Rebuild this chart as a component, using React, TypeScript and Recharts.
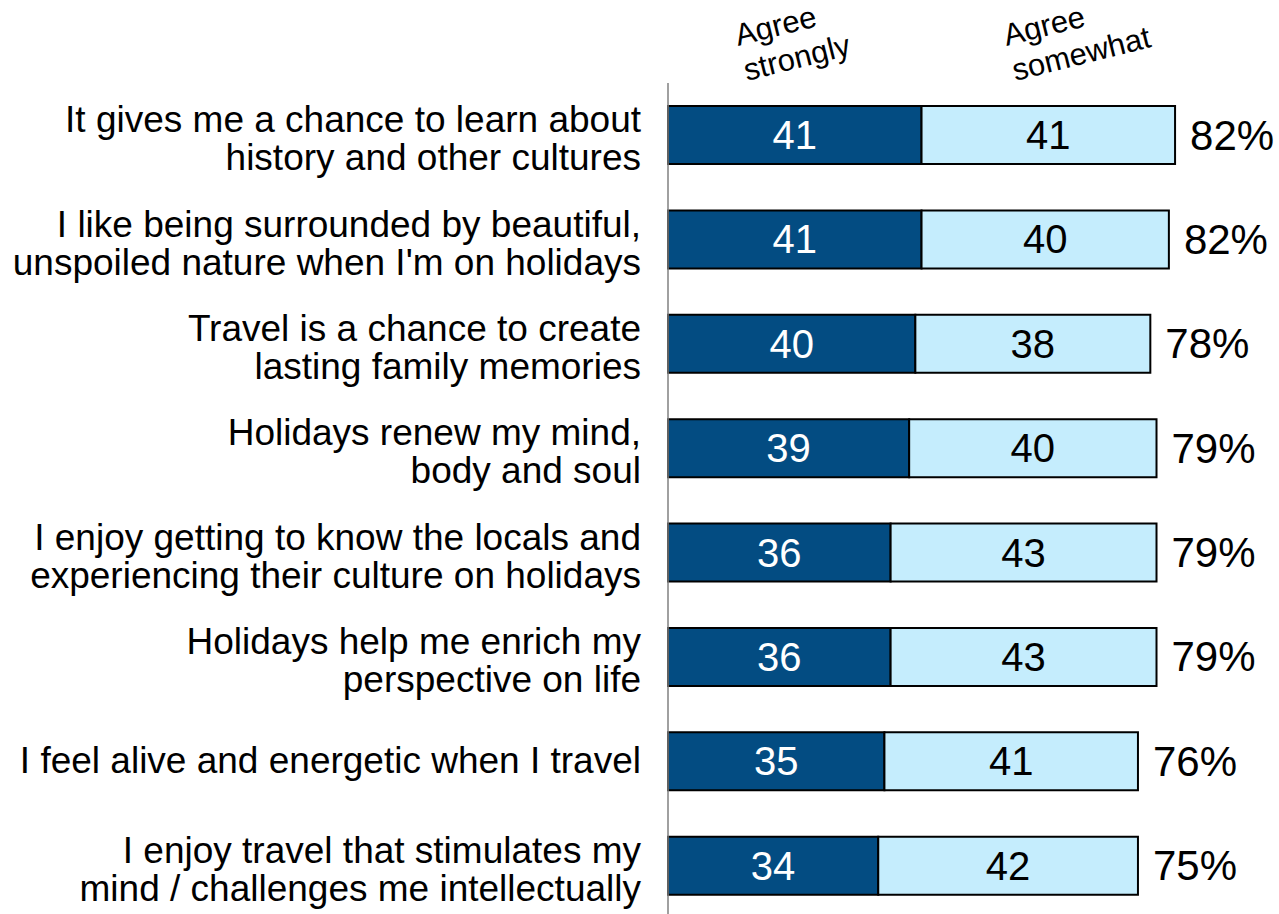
import { Bar, BarChart, LabelList, XAxis, YAxis } from "recharts";

const categories = [
  "It gives me a chance to learn about\nhistory and other cultures",
  "I like being surrounded by beautiful,\nunspoiled nature when I'm on holidays",
  "Travel is a chance to create\nlasting family memories",
  "Holidays renew my mind,\nbody and soul",
  "I enjoy getting to know the locals and\nexperiencing their culture on holidays",
  "Holidays help me enrich my\nperspective on life",
  "I feel alive and energetic when I travel",
  "I enjoy travel that stimulates my\nmind / challenges me intellectually"
];
const agreeStrongly = [41, 41, 40, 39, 36, 36, 35, 34];
const agreeSomewhat = [41, 40, 38, 40, 43, 43, 41, 42];
const totals = ["82%", "82%", "78%", "79%", "79%", "79%", "76%", "75%"];
const seriesNames = [
  ["Agree", "strongly"],
  ["Agree", "somewhat"]
];

const data = categories.map((name, i) => ({
  name,
  strong: agreeStrongly[i],
  somewhat: agreeSomewhat[i],
  total: totals[i]
}));

const font = "'Liberation Sans', Arial, sans-serif";

function CategoryTick(props: any) {
  const { x, y, payload } = props;
  const lines: string[] = String(payload.value).split("\n");
  const first = lines.length === 1 ? 12 : -3;
  return (
    <text x={x} y={y} textAnchor="end" fontSize={37} fontFamily={font} fill="#000">
      {lines.map((line, i) => (
        <tspan key={i} x={x} dy={i === 0 ? first : 38}>
          {line}
        </tspan>
      ))}
    </text>
  );
}

function valueLabel(color: string, header: string[], hx: number) {
  return (props: any) => {
    const { x, y, width, height, value, index } = props;
    const cx = Number(x) + Number(width) / 2;
    const cy = Number(y) + Number(height) / 2;
    const ax = Number(x) + hx;
    const ay = Number(y) - 60;
    return (
      <g>
        <text x={cx} y={cy} textAnchor="middle" dominantBaseline="central" fontSize={40} fontFamily={font} fill={color}>
          {value}
        </text>
        {index === 0 && (
          <text x={ax} y={ay} transform={`rotate(-14, ${ax}, ${ay})`} fontSize={31} fontFamily={font} fill="#000">
            <tspan x={ax}>{header[0]}</tspan>
            <tspan x={ax} dy={36}>{header[1]}</tspan>
          </text>
        )}
      </g>
    );
  };
}

function totalLabel(props: any) {
  const { x, y, width, height, index } = props;
  return (
    <text
      x={Number(x) + Number(width) + 15}
      y={Number(y) + Number(height) / 2}
      dominantBaseline="central"
      fontSize={42}
      fontFamily={font}
      fill="#000"
    >
      {totals[index]}
    </text>
  );
}

export default function App() {
  return (
    <div style={{ position: "absolute", left: 0, top: 0, width: 1279, height: 914, overflow: "hidden", background: "#fff" }}>
      <BarChart
        width={1279}
        height={918}
        data={data}
        layout="vertical"
        margin={{ top: 83, right: 5, bottom: 0, left: 0 }}
        barSize={58}
      >
        <XAxis type="number" domain={[0, 98]} hide />
        <YAxis
          type="category"
          dataKey="name"
          width={668}
          axisLine={{ stroke: "#808080", strokeWidth: 1.5 }}
          tickLine={false}
          tickSize={0}
          tickMargin={27}
          tick={<CategoryTick />}
          interval={0}
        />
        <Bar dataKey="strong" stackId="a" fill="#034C82" stroke="#000" strokeWidth={2} isAnimationActive={false}>
          <LabelList dataKey="strong" content={valueLabel("#fff", seriesNames[0], 70)} />
        </Bar>
        <Bar dataKey="somewhat" stackId="a" fill="#C5EDFD" stroke="#000" strokeWidth={2} isAnimationActive={false}>
          <LabelList dataKey="somewhat" content={valueLabel("#000", seriesNames[1], 85)} />
          <LabelList dataKey="total" content={totalLabel} />
        </Bar>
      </BarChart>
    </div>
  );
}
